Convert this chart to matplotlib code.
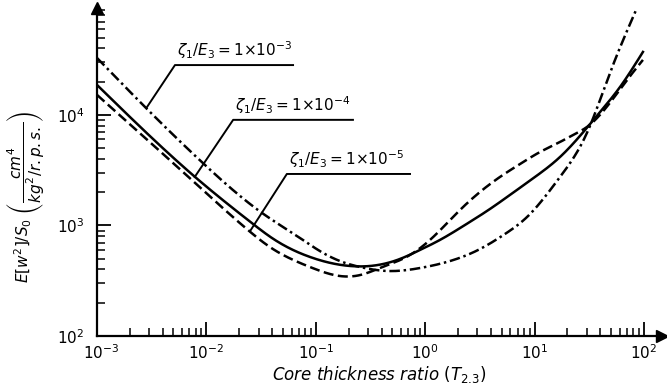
import numpy as np
import matplotlib
matplotlib.use("Agg")
import matplotlib.pyplot as plt
import matplotlib.transforms as mtransforms
from matplotlib.ticker import LogLocator, FixedLocator, FixedFormatter, NullFormatter

plt.rcParams['font.family'] = ['DejaVu Sans']
plt.rcParams['mathtext.fontset'] = 'dejavusans'
plt.rcParams['mathtext.default'] = 'it'

# ---- data ----
x_dashdot = [1e-3, 2.75e-3, 9.7e-3, 0.0322, 0.0718, 0.109, 0.166, 0.254, 0.476, 0.895, 1.69, 3.17, 5.36, 8.51, 12.4, 17.1, 30.1, 48.9, 86.3]
y_dashdot = [3.28e4, 1.18e4, 3530, 1300, 770, 587, 477, 421, 387, 412, 477, 612, 837, 1190, 1810, 2750, 6870, 2.40e4, 9.29e4]

x_solid = [1e-3, 7.87e-3, 0.0261, 0.0398, 0.0885, 0.206, 0.313, 0.589, 0.895, 1.365, 2.31, 3.91, 5.96, 10.1, 17.1, 26.0, 39.6, 60.4, 97.9]
y_solid = [1.87e4, 2750, 1050, 770, 519, 430, 430, 498, 600, 740, 1010, 1410, 1890, 2750, 4170, 6460, 1.06e4, 1.79e4, 3.72e4]

x_dashed = [1e-3, 7.87e-3, 0.024, 0.0381, 0.0885, 0.166, 0.254, 0.386, 0.726, 1.107, 2.08, 3.17, 4.83, 7.36, 11.2, 17.1, 23.4, 30.1, 48.9, 70.0, 97.9]
y_dashed = [1.52e4, 2430, 910, 638, 421, 349, 356, 412, 541, 740, 1380, 2010, 2750, 3600, 4620, 5700, 6730, 7780, 1.29e4, 2.07e4, 3.15e4]

labels = [r'$\zeta_1/E_3 = 1{\times}10^{-3}$',
          r'$\zeta_1/E_3 = 1{\times}10^{-4}$',
          r'$\zeta_1/E_3 = 1{\times}10^{-5}$']

x_ticks = [1e-3, 1e-2, 1e-1, 1e0, 1e1, 1e2]
x_ticklabels = [r'$10^{-3}$', r'$10^{-2}$', r'$10^{-1}$', r'$10^{0}$', r'$10^{1}$', r'$10^{2}$']
y_ticks = [1e2, 1e3, 1e4]
y_ticklabels = [r'$10^{2}$', r'$10^{3}$', r'$10^{4}$']


def spline_curve(xs, ys, n=500):
    """Natural cubic spline through the points, in log-log space."""
    x = np.log10(np.asarray(xs, float))
    y = np.log10(np.asarray(ys, float))
    N = len(x)
    h = np.diff(x)
    A = np.zeros((N, N))
    r = np.zeros(N)
    A[0, 0] = A[-1, -1] = 1.0
    for i in range(1, N - 1):
        A[i, i - 1] = h[i - 1]
        A[i, i] = 2 * (h[i - 1] + h[i])
        A[i, i + 1] = h[i]
        r[i] = 6 * ((y[i + 1] - y[i]) / h[i] - (y[i] - y[i - 1]) / h[i - 1])
    M = np.linalg.solve(A, r)
    xn = np.linspace(x[0], x[-1], n)
    k = np.clip(np.searchsorted(x, xn) - 1, 0, N - 2)
    a = x[k + 1] - xn
    b = xn - x[k]
    hk = h[k]
    yn = (M[k] * a**3 + M[k + 1] * b**3) / (6 * hk) \
        + (y[k] / hk - M[k] * hk / 6) * a + (y[k + 1] / hk - M[k + 1] * hk / 6) * b
    return 10 ** xn, 10 ** yn


fig = plt.figure(figsize=(6.67, 3.91), dpi=100)
ax = fig.add_axes([97 / 667, 1 - 336 / 391, 565 / 667, 328 / 391])
ax.set_xscale('log')
ax.set_yscale('log')
ax.set_xlim(1e-3, 10 ** 2.165)
ax.set_ylim(1e2, 10 ** 4.968)

lw = 1.8
xs, ys = spline_curve(x_dashdot, y_dashdot)
ax.plot(xs, ys, color='black', lw=lw, dashes=(4.2, 1.5, 1.0, 1.5), clip_on=False)
xs, ys = spline_curve(x_solid, y_solid)
ax.plot(xs, ys, color='black', lw=lw)
xs, ys = spline_curve(x_dashed, y_dashed)
ax.plot(xs, ys, color='black', lw=lw, dashes=(4.0, 1.8))

# spines with arrows
for s in ['top', 'right']:
    ax.spines[s].set_visible(False)
for s in ['left', 'bottom']:
    ax.spines[s].set_linewidth(1.6)
ax.plot(1, 0, '>k', ms=8, transform=ax.transAxes, clip_on=False)
ax.plot(0, 1, '^k', ms=8, transform=ax.transAxes, clip_on=False)

ax.xaxis.set_major_locator(FixedLocator(x_ticks))
ax.xaxis.set_major_formatter(FixedFormatter(x_ticklabels))
ax.xaxis.set_minor_locator(LogLocator(base=10, subs=np.arange(2, 10), numticks=20))
ax.xaxis.set_minor_formatter(NullFormatter())
ax.yaxis.set_major_locator(FixedLocator(y_ticks))
ax.yaxis.set_major_formatter(FixedFormatter(y_ticklabels))
ax.yaxis.set_minor_locator(LogLocator(base=10, subs=np.arange(2, 10), numticks=20))
ax.yaxis.set_minor_formatter(NullFormatter())
ax.tick_params(which='major', direction='in', length=10, width=1.3, labelsize=11)
ax.tick_params(which='minor', direction='in', length=5.5, width=1.1)
ax.tick_params(axis='x', which='major', pad=5)
ax.tick_params(axis='y', which='major', pad=9)

# nudge first x tick label to the right (as in the reference)
fig.canvas.draw()
xl0 = ax.get_xticklabels()[0]
xl0.set_transform(xl0.get_transform() + mtransforms.ScaledTranslation(4 / 100, 0, fig.dpi_scale_trans))

ax.set_xlabel(r'Core thickness ratio $(T_{2.3})$', fontsize=12, style='italic', labelpad=2)
ax.set_ylabel(r'$E[w^2]/S_0\ \left(\dfrac{cm^4}{kg^2/r.p.s.}\right)$', fontsize=11)
ax.yaxis.set_label_coords(-0.088, 0.424)

# labels with leader lines (axes fraction)
ann = [
    (0.138, 0.826, 0.347, (0.0885, 0.698)),
    (0.241, 0.659, 0.453, (0.173, 0.485)),
    (0.336, 0.494, 0.554, (0.271, 0.320)),
]
for lab, (x0, yu, x1, tgt) in zip(labels, ann):
    ax.plot([tgt[0], x0, x1], [tgt[1], yu, yu], color='black', lw=1.4, transform=ax.transAxes, clip_on=False)
    ax.text(x0 + 0.003, yu + 0.012, lab, transform=ax.transAxes, fontsize=11, ha='left', va='bottom')

fig.savefig('out.png', dpi=100)
